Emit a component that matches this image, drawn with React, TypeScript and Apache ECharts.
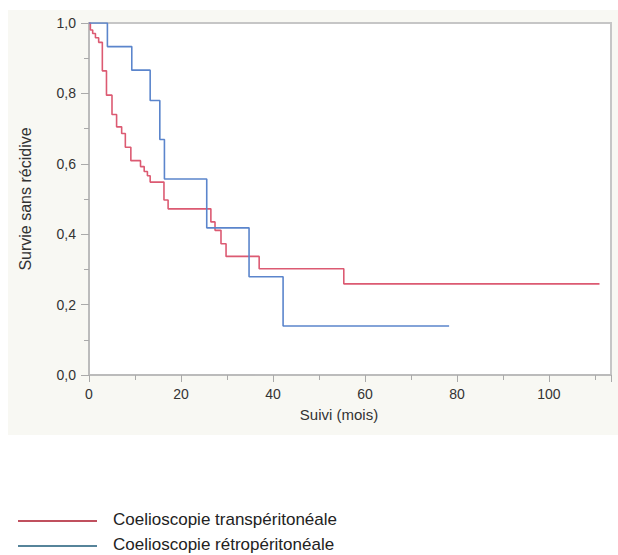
import React, { useEffect, useRef } from "react";
import * as echarts from "echarts";

const xTickLabels = ["0", "20", "40", "60", "80", "100"];
const yTickLabels = ["0,0", "0,2", "0,4", "0,6", "0,8", "1,0"];

const seriesNames = ["Coelioscopie transpéritonéale", "Coelioscopie rétropéritonéale"];

const transTimes = [0, 0.3, 0.8, 1.4, 2.1, 2.9, 3.8, 5.0, 6.0, 7.1, 7.9, 9.1, 11.2, 12.0, 12.7, 13.3, 16.3, 17.2, 26.5, 27.4, 28.7, 29.8, 37.0, 55.4, 111];
const transSurv = [1.0, 0.98, 0.97, 0.958, 0.945, 0.864, 0.795, 0.74, 0.705, 0.686, 0.647, 0.609, 0.592, 0.578, 0.566, 0.548, 0.497, 0.472, 0.435, 0.411, 0.373, 0.337, 0.302, 0.259, 0.259];

const retroTimes = [0, 4.0, 9.3, 13.3, 15.4, 16.4, 25.6, 34.8, 42.2, 78.3];
const retroSurv = [1.0, 0.933, 0.866, 0.78, 0.669, 0.557, 0.418, 0.279, 0.139, 0.139];

const colors = ["#dc5a72", "#5b85cc"];
const legendColors = ["#c0505e", "#56849a"];

export default function App() {
  const ref = useRef<HTMLDivElement>(null);
  useEffect(() => {
    if (!ref.current) return;
    const chart = echarts.init(ref.current, null, { renderer: "svg" });
    const font = "'Liberation Sans', Arial, Helvetica, sans-serif";
    const mk = (t: number[], s: number[]) => t.map((v, i) => [v, s[i]]);
    chart.setOption({
      animation: false,
      textStyle: { fontFamily: font },
      grid: {
        left: 89,
        top: 23,
        right: 7,
        bottom: 180,
        show: true,
        backgroundColor: "#ffffff",
        borderColor: "#c6c6c6",
        borderWidth: 2,
      },
      xAxis: {
        type: "value",
        min: 0,
        max: 113.5,
        interval: 20,
        splitLine: { show: false },
        axisLine: { show: true, lineStyle: { color: "#b8b8b8", width: 1.5 } },
        axisTick: { show: true, length: 7, lineStyle: { color: "#aaaaaa" } },
        minorTick: { show: true, splitNumber: 2, length: 5, lineStyle: { color: "#aaaaaa" } },
        axisLabel: {
          margin: 12,
          fontSize: 14,
          color: "#333",
          fontFamily: font,
          showMaxLabel: false,
          formatter: (v: number) => {
            const i = Math.round(v / 20);
            return Math.abs(v - i * 20) < 1e-6 && xTickLabels[i] ? xTickLabels[i] : "";
          },
        },
      },
      yAxis: {
        type: "value",
        min: 0,
        max: 1,
        interval: 0.2,
        splitLine: { show: false },
        axisLine: { show: true, lineStyle: { color: "#b8b8b8", width: 1.5 } },
        axisTick: { show: true, length: 8, lineStyle: { color: "#aaaaaa" } },
        minorTick: { show: true, splitNumber: 2, length: 5, lineStyle: { color: "#aaaaaa" } },
        axisLabel: {
          margin: 13,
          fontSize: 14,
          color: "#333",
          fontFamily: font,
          formatter: (v: number) => yTickLabels[Math.round(v / 0.2)] ?? "",
        },
      },
      series: [
        {
          name: seriesNames[0],
          type: "line",
          step: "end",
          showSymbol: false,
          data: mk(transTimes, transSurv),
          lineStyle: { color: colors[0], width: 1.6 },
          itemStyle: { color: colors[0] },
        },
        {
          name: seriesNames[1],
          type: "line",
          step: "end",
          showSymbol: false,
          data: mk(retroTimes, retroSurv),
          lineStyle: { color: colors[1], width: 1.6 },
          itemStyle: { color: colors[1] },
        },
      ],
      graphic: [
        {
          type: "rect",
          z: -100,
          silent: true,
          shape: { x: 8, y: 10, width: 612, height: 425 },
          style: { fill: "#f8f8f3" },
        },
        {
          type: "text",
          x: 339,
          y: 414,
          style: { text: "Suivi (mois)", fontSize: 15, fill: "#333", align: "center", verticalAlign: "middle", fontFamily: font },
        },
        {
          type: "text",
          x: 25,
          y: 199,
          rotation: Math.PI / 2,
          style: { text: "Survie sans récidive", fontSize: 16, fill: "#333", align: "center", verticalAlign: "middle", fontFamily: font },
        },
        {
          type: "line",
          shape: { x1: 18, y1: 521, x2: 97, y2: 521 },
          style: { stroke: legendColors[0], lineWidth: 2 },
        },
        {
          type: "line",
          shape: { x1: 18, y1: 546, x2: 97, y2: 546 },
          style: { stroke: legendColors[1], lineWidth: 2 },
        },
        {
          type: "text",
          x: 113,
          y: 519,
          style: { text: seriesNames[0], fontSize: 17, fill: "#222", align: "left", verticalAlign: "middle", fontFamily: font },
        },
        {
          type: "text",
          x: 113,
          y: 544,
          style: { text: seriesNames[1], fontSize: 17, fill: "#222", align: "left", verticalAlign: "middle", fontFamily: font },
        },
      ],
    });
    return () => chart.dispose();
  }, []);
  return (
    <div
      ref={ref}
      style={{ position: "fixed", left: 0, top: 0, width: 618, height: 555, background: "#ffffff" }}
    />
  );
}
